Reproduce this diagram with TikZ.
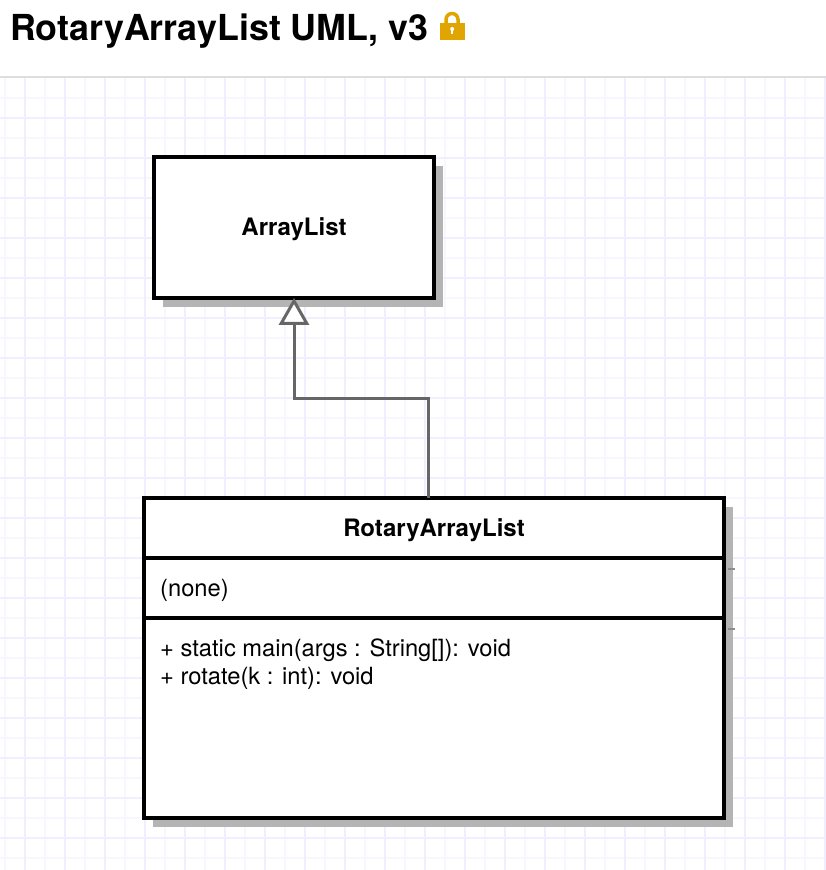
\documentclass[tikz,border=0pt]{standalone}
\usepackage{fontspec}
\setmainfont{TeX Gyre Heros}
\usetikzlibrary{arrows.meta,shadows}
\definecolor{gridmajor}{HTML}{F0EEFF}
\definecolor{gridminor}{HTML}{F8F7FF}
\definecolor{shadowgray}{HTML}{B4B4B4}
\definecolor{linkgray}{HTML}{666666}
\definecolor{lockgold}{HTML}{E0A500}
\tikzset{
  classbox/.style={draw=black,fill=white,line width=3.8,rectangle,inner sep=0,
    copy shadow={shadow xshift=9pt,shadow yshift=-9pt,fill=shadowgray,draw=none}},
  classname/.style={font=\fontsize{24}{28}\selectfont\bfseries,text height=16,text depth=0},
  classtext/.style={font=\fontsize{23.7}{28}\selectfont,align=left,inner sep=0},
  extends/.style={draw=linkgray,line width=3,shorten >=-2,-{Triangle[open,length=27,width=30,fill=white]}},
}
\begin{document}
\begin{tikzpicture}[x=1pt,y=-1pt]
  \useasboundingbox (0,0) rectangle (826,870);
  \fill[white] (0,0) rectangle (826,870);
  % grid
  \foreach \x in {5,45,...,825}{
  \draw[gridminor,line width=2] (\x,78)--(\x,870);
  }
  \foreach \y in {98,138,...,858}{
  \draw[gridminor,line width=2] (0,\y)--(826,\y);
  }
  \foreach \x in {25,65,...,825}{
  \draw[gridmajor,line width=2] (\x,78)--(\x,870);
  }
  \foreach \y in {118,158,...,838}{
  \draw[gridmajor,line width=2] (0,\y)--(826,\y);
  }
  \draw[black!13,line width=2] (0,77)--(826,77);
  % title
  \node[anchor=base west,inner sep=0,font=\fontsize{35.8}{40}\selectfont\bfseries] (title) at (10,40) {RotaryArrayList UML, v3};
  \draw[lockgold,line width=3.5] (446,24)--(446,19.5) arc (180:360:6) --(458,24);
  \fill[lockgold] (440,22.5) rectangle (464.5,40);
  \fill[white] (452.2,29) circle (2);
  \fill[white] (451.4,29) rectangle (453,34);
  % classes
  \node[classbox,minimum width=280,minimum height=141,classname] (arraylist) at (294,227.5) {ArrayList};
  \node[classbox,minimum width=580,minimum height=60,classname] (rotaryhead) at (434,528) {RotaryArrayList};
  \node[classbox,minimum width=580,minimum height=60] (rotaryattr) at (434,588) {};
  \node[classbox,minimum width=580,minimum height=200] (rotaryops) at (434,718) {};
  \node[classtext,anchor=base west] (attrtext) at (160,596) {(none)};
  \node[classtext,anchor=base west] (opstext) at (160,684) {+ static main(args : String[]): void\\+ rotate(k : int): void};
  \draw[black!45,line width=1.5] ([shift={(2,9)}]rotaryhead.south east)--++(7,0);
  \draw[black!45,line width=1.5] ([shift={(2,9)}]rotaryattr.south east)--++(7,0);
  % inheritance
  \coordinate (elbowa) at (428,398);
  \coordinate (elbowb) at (294,398);
  \coordinate (start) at (428,498);
  \draw[extends] (start)--(elbowa)--(elbowb)--(arraylist.south);
\end{tikzpicture}
\end{document}
